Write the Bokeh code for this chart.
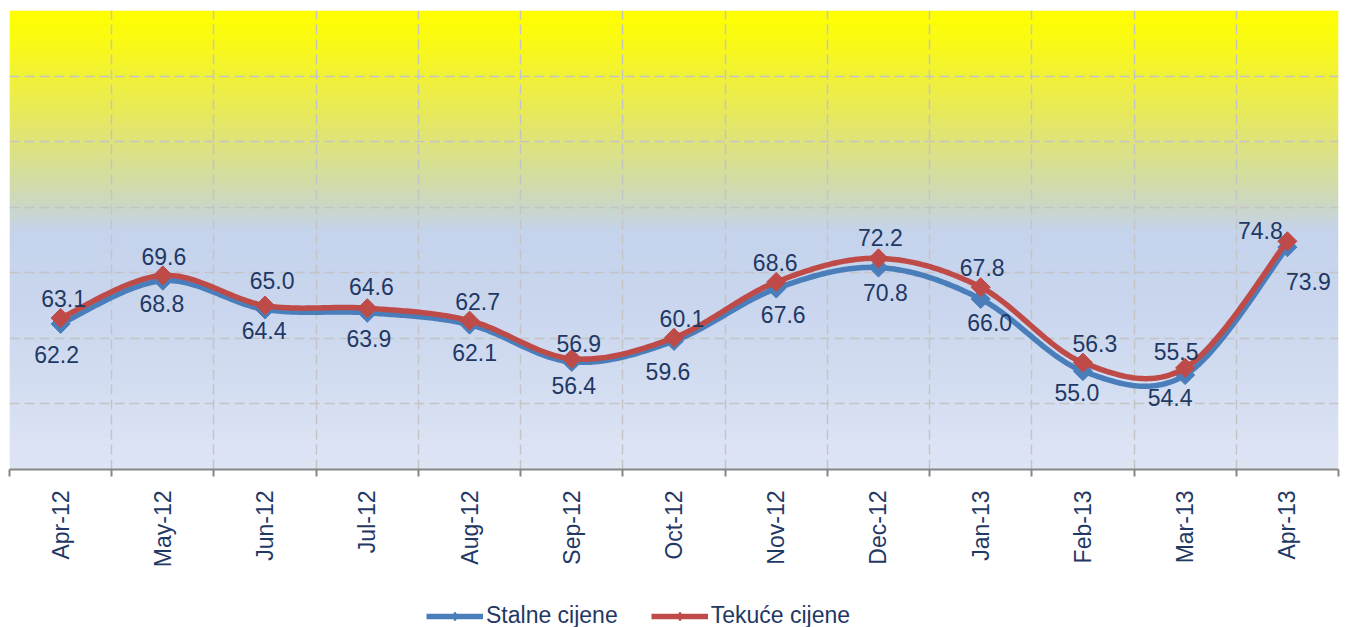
import math
import numpy as np
from bokeh.plotting import figure
from bokeh.layouts import column
from bokeh.models import Range1d, FixedTicker, Legend, LegendItem, ColumnDataSource
from bokeh.core.properties import value
from bokeh.embed import file_html
from bokeh.resources import INLINE

# ---------------- data ----------------
months = ["Apr-12", "May-12", "Jun-12", "Jul-12", "Aug-12", "Sep-12", "Oct-12",
          "Nov-12", "Dec-12", "Jan-13", "Feb-13", "Mar-13", "Apr-13"]
stalne = [62.2, 68.8, 64.4, 63.9, 62.1, 56.4, 59.6, 67.6, 70.8, 66.0, 55.0, 54.4, 73.9]
tekuce = [63.1, 69.6, 65.0, 64.6, 62.7, 56.9, 60.1, 68.6, 72.2, 67.8, 56.3, 55.5, 74.8]
y_ticks = [40, 50, 60, 70, 80, 90, 100, 110]
series_names = ["Stalne cijene", "Tekuće cijene"]

# ---------------- label placement (screen px) ----------------
blue_dx = [-4, -1, -1, 1.5, 5, 2, -6, 7, 7, 9, -6, -15, 21]
blue_dy = [31, 23, 21, 25.5, 28, 24, 31, 26, 25, 23, 21, 22, 34]
red_dx = [3, 1, 7, 4, 8, 7, 8, -1, 2, 1.5, 12, -9, -27]
red_dy = [-20, -19, -25, -22, -19, -15, -19, -19, -21, -20, -19, -16.5, -11]

BLUE = "#4A7EBB"
RED = "#BE4B48"
TXT = "#1F3864"
FONT = "Liberation Sans"

n = len(months)
xs = [i + 0.5 for i in range(n)]
ymin, ymax = y_ticks[0], y_ticks[-1]

p = figure(width=1344, height=590, output_backend="svg", toolbar_location=None,
           x_range=Range1d(0, n), y_range=Range1d(ymin, ymax),
           y_axis_location=None, min_border_left=9, min_border_right=6,
           min_border_top=10, min_border_bottom=121)
p.outline_line_color = None
p.background_fill_color = None
p.border_fill_color = "white"

# ---------------- background gradient ----------------
H = 700
stops_t = [0.0, 0.07, 0.14, 0.22, 0.29, 0.36, 0.43, 0.48, 0.63, 1.0]
stops_r = [255, 250, 242, 232, 223, 212, 203, 197, 201, 222]
stops_g = [255, 250, 242, 234, 227, 222, 215, 211, 214, 229]
stops_b = [0, 22, 55, 90, 125, 160, 200, 236, 238, 245]
tt = 1.0 - (np.arange(H) + 0.5) / H
img = np.empty((H, 1), dtype=np.uint32)
view = img.view(dtype=np.uint8).reshape((H, 1, 4))
view[:, 0, 0] = np.interp(tt, stops_t, stops_r).astype(np.uint8)
view[:, 0, 1] = np.interp(tt, stops_t, stops_g).astype(np.uint8)
view[:, 0, 2] = np.interp(tt, stops_t, stops_b).astype(np.uint8)
view[:, 0, 3] = 255
p.image_rgba(image=[img], x=0, y=ymin, dw=n, dh=ymax - ymin, level="image")

# ---------------- axes & grids ----------------
p.xaxis.ticker = FixedTicker(ticks=xs, minor_ticks=list(range(n + 1)))
p.xaxis.major_label_overrides = {x: m for x, m in zip(xs, months)}
p.xaxis.major_label_orientation = math.pi / 2
p.xaxis.major_label_text_font = FONT
p.xaxis.major_label_text_font_size = "23px"
p.xaxis.major_label_text_color = TXT
p.xaxis.major_label_standoff = 14
p.xaxis.major_tick_out = 0
p.xaxis.major_tick_in = 0
p.xaxis.minor_tick_out = 7
p.xaxis.minor_tick_in = 0
p.xaxis.minor_tick_line_color = "#868686"
p.xaxis.minor_tick_line_width = 2
p.xaxis.axis_line_color = "#868686"
p.xaxis.axis_line_width = 2

p.xgrid.ticker = FixedTicker(ticks=list(range(n + 1)))
p.ygrid.ticker = FixedTicker(ticks=y_ticks)
for g in (p.xgrid, p.ygrid):
    g.grid_line_color = "#C4C4C4"
    g.grid_line_width = 1.5
    g.grid_line_dash = "10 5"


# ---------------- smooth curves (Bezier through the points) ----------------
def smooth(xv, yv, steps=40):
    pts = np.column_stack([xv, yv]).astype(float)
    out = []
    m = len(pts)
    for i in range(m - 1):
        p0 = pts[i - 1] if i > 0 else pts[i]
        p1 = pts[i]
        p2 = pts[i + 1]
        p3 = pts[i + 2] if i + 2 < m else pts[i + 1]
        c1 = p1 + (p2 - p0) / 6.0
        c2 = p2 - (p3 - p1) / 6.0
        t = np.linspace(0, 1, steps)[:, None]
        seg = ((1 - t) ** 3) * p1 + 3 * ((1 - t) ** 2) * t * c1 + 3 * (1 - t) * t ** 2 * c2 + t ** 3 * p2
        if i > 0:
            seg = seg[1:]
        out.append(seg)
    arr = np.vstack(out)
    return arr[:, 0], arr[:, 1]


bx, by = smooth(xs, stalne)
rx, ry = smooth(xs, tekuce)

p.line(bx, by, line_color=BLUE, line_width=5.5, line_join="round", line_cap="round")
p.scatter(xs, stalne, marker="square", angle=math.pi / 4, size=13.5,
          fill_color=BLUE, line_color=BLUE)
p.line(rx, ry, line_color=RED, line_width=5.5, line_join="round", line_cap="round")
p.scatter(xs, tekuce, marker="square", angle=math.pi / 4, size=13.5,
          fill_color=RED, line_color=RED)

# ---------------- data labels ----------------
src_b = ColumnDataSource(dict(x=xs, y=stalne, t=[f"{v:.1f}" for v in stalne], dx=blue_dx, dy=blue_dy))
src_r = ColumnDataSource(dict(x=xs, y=tekuce, t=[f"{v:.1f}" for v in tekuce], dx=red_dx, dy=red_dy))
for src in (src_b, src_r):
    p.text(x="x", y="y", text="t", source=src, x_offset="dx", y_offset="dy",
           text_align="center", text_baseline="middle",
           text_font=value(FONT), text_font_size="23px", text_color=TXT)

# ---------------- legend (own strip below the chart) ----------------
# the strip's y range lies far below the data, so its proxy glyphs stay out of view
lg = figure(width=1344, height=37, output_backend="svg", toolbar_location=None,
            x_range=Range1d(0, n), y_range=Range1d(0, 1),
            x_axis_location=None, y_axis_location=None,
            min_border_left=0, min_border_right=0, min_border_top=0, min_border_bottom=0)
lg.outline_line_color = None
lg.grid.visible = False
lg.background_fill_color = None
lg.border_fill_color = "white"
items = []
for name, col, vals in zip(series_names, (BLUE, RED), (stalne, tekuce)):
    r1 = lg.line(x=xs, y=vals, line_color=col, line_width=5.5)
    r2 = lg.scatter(x=xs, y=vals, marker="diamond", size=16, fill_color=col, line_color=col)
    items.append(LegendItem(label=name, renderers=[r1, r2]))
legend = Legend(items=items, orientation="horizontal", location=(417, -2),
                glyph_width=57, glyph_height=22, label_standoff=3, spacing=33,
                padding=0, margin=0, background_fill_alpha=0, border_line_color=None,
                label_text_font=FONT, label_text_font_size="23px", label_text_color=TXT)
lg.add_layout(legend, "center")

open("out.html", "w").write(file_html(column(p, lg, spacing=0), INLINE))
